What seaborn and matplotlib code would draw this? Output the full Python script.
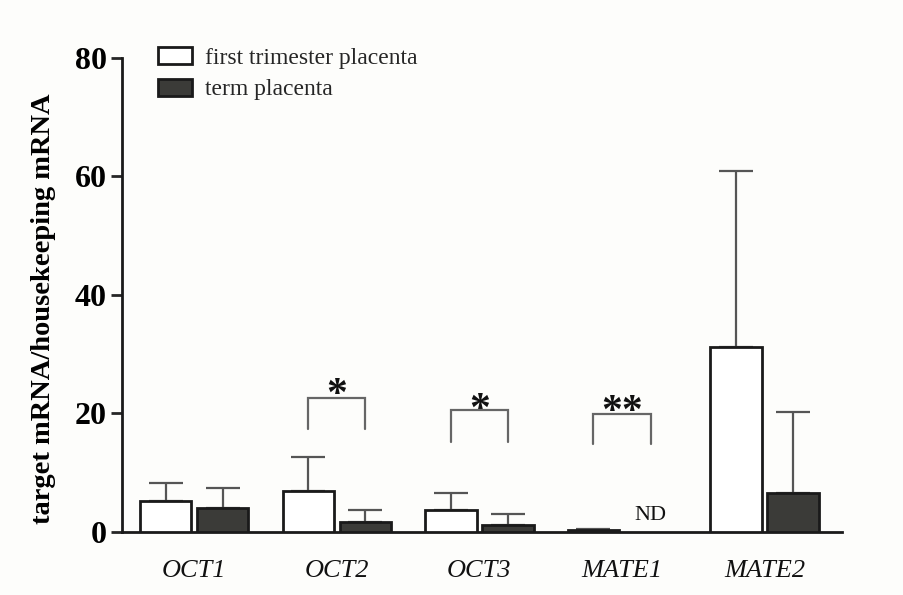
import numpy as np
import pandas as pd
import matplotlib
matplotlib.use("Agg")
import matplotlib.pyplot as plt
import seaborn as sns

genes = ["OCT1", "OCT2", "OCT3", "MATE1", "MATE2"]
groups = ["first trimester placenta", "term placenta"]
first_mean = [5.2, 6.9, 3.7, 0.3, 31.2]
first_sd = [3.1, 5.8, 2.9, 0.2, 29.7]
term_mean = [4.05, 1.7, 1.2, np.nan, 6.6]   # MATE1 not detected in term placenta
term_sd = [3.35, 2.0, 1.8, np.nan, 13.7]

# significance brackets: (gene index, bracket top, leg bottom, label, label centre y)
sig_marks = [(1, 22.6, 17.4, "*", 24.8),
             (2, 20.6, 15.2, "*", 22.2),
             (3, 19.9, 14.9, "**", 21.9)]

df = pd.DataFrame({
    "gene": genes * 2,
    "group": [groups[0]] * len(genes) + [groups[1]] * len(genes),
    "value": first_mean + term_mean,
})

sns.set_style("ticks")
plt.rcParams["font.family"] = ["Liberation Serif", "DejaVu Serif"]

fig = plt.figure(figsize=(9.04, 5.95), dpi=100, facecolor="#fdfdfb")
ax = fig.add_axes([0.135, 0.106, 0.796, 0.797])
ax.set_facecolor("#fdfdfb")

fill_colors = {groups[0]: "#ffffff", groups[1]: "#3b3b37"}
sns.barplot(data=df, x="gene", y="value", hue="group", order=genes,
            hue_order=groups, palette=fill_colors, width=0.8, gap=0.1,
            edgecolor="#1a1a1a", linewidth=2.0, errorbar=None,
            legend=True, ax=ax, zorder=3)

# bar centres per group: first-trimester bars all exist, term bars sit at a fixed offset
first_patches = ax.containers[0].patches
first_x = [p.get_x() + p.get_width() / 2 for p in first_patches]
t0 = ax.containers[1].patches[0]
offset = (t0.get_x() + t0.get_width() / 2) - first_x[0]
term_x = [x + offset for x in first_x]

# upper-only error bars at each bar centre
for xs, means, sds in [(first_x, first_mean, first_sd), (term_x, term_mean, term_sd)]:
    for xc, m, s in zip(xs, means, sds):
        if np.isnan(m):
            continue
        ax.errorbar(xc, m, yerr=[[0], [s]], fmt="none", ecolor="#555555",
                    elinewidth=1.6, capsize=12, capthick=1.6, zorder=2)

# significance brackets between paired bars
for gi, top, bottom, label, ly in sig_marks:
    x1, x2 = first_x[gi], term_x[gi]
    ax.plot([x1, x1, x2, x2], [bottom, top, top, bottom], color="#666666",
            lw=1.6, solid_joinstyle="miter", zorder=4)
    ax.annotate(label, xy=((x1 + x2) / 2, ly), ha="center", va="center",
                xytext=(0, -8), textcoords="offset points",
                fontsize=30, fontweight="bold", color="#111111")

# ND label for the undetected bar
ax.text(term_x[3], 2.7, "ND", ha="center", va="center",
        fontsize=16, color="#111111")

ax.set_ylim(0, 80)
ax.set_xlim(-0.506, 4.54)
ax.set_yticks([0, 20, 40, 60, 80])
ax.tick_params(axis="y", labelsize=23, width=2, length=8, direction="out", pad=3,
               labelcolor="#000000")
for lab in ax.get_yticklabels():
    lab.set_fontweight("bold")
ax.tick_params(axis="x", length=0, labelsize=19, pad=20, labelcolor="#111111")
for lab in ax.get_xticklabels():
    lab.set_fontstyle("italic")
ax.set_xlabel("")
ax.set_ylabel("target mRNA/housekeeping mRNA", fontsize=20.5, fontweight="bold",
              color="#000000")
ax.yaxis.set_label_coords(-0.092, 0.47)

sns.despine(ax=ax)
ax.spines["left"].set_linewidth(2)
ax.spines["bottom"].set_linewidth(2)
ax.spines["left"].set_color("#1a1a1a")
ax.spines["bottom"].set_color("#1a1a1a")

leg = ax.legend(loc="upper left", bbox_to_anchor=(0.02, 1.067), frameon=False,
                fontsize=17, handlelength=1.45, handleheight=0.75,
                handletextpad=0.55, labelspacing=0.4)

fig.savefig("out.png", dpi=100, facecolor=fig.get_facecolor())
